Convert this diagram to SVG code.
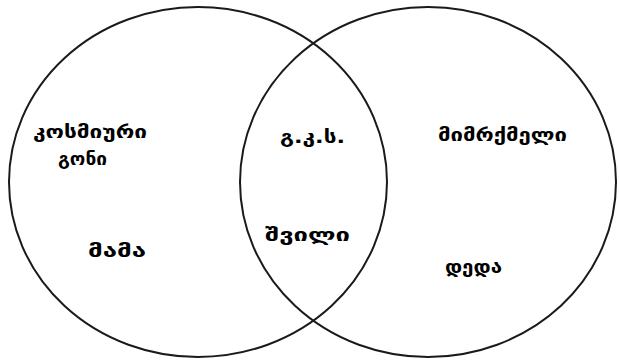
<svg xmlns="http://www.w3.org/2000/svg" width="619" height="362" viewBox="0 0 619 362">
<style>
.c{fill:none;stroke:#1a1a1a;stroke-width:2}
.t{font-family:"DejaVu Sans","Noto Sans",sans-serif;font-size:18px;font-weight:bold;fill:#000}
</style>
<rect width="619" height="362" fill="#fff"/>
<g id="left-set"><ellipse class="c" cx="198" cy="182" rx="189" ry="175"/></g>
<g id="right-set"><ellipse class="c" cx="428" cy="182" rx="188" ry="175"/></g>
<g id="connectors"></g>
<g id="n-cosmic"><text class="t" x="33" y="138" textLength="114" lengthAdjust="spacingAndGlyphs">კოსმიური</text><text class="t" x="58" y="165" textLength="49" lengthAdjust="spacingAndGlyphs">გონი</text></g>
<g id="n-father"><text class="t" x="88" y="257" textLength="58" lengthAdjust="spacingAndGlyphs">მამა</text></g>
<g id="n-gks"><text class="t" x="280" y="143" textLength="65" lengthAdjust="spacingAndGlyphs">გ.კ.ს.</text></g>
<g id="n-son"><text class="t" x="265" y="241" textLength="85" lengthAdjust="spacingAndGlyphs">შვილი</text></g>
<g id="n-other"><text class="t" x="438" y="141" textLength="129" lengthAdjust="spacingAndGlyphs">მიმრქმელი</text></g>
<g id="n-mother"><text class="t" x="445" y="273" textLength="57" lengthAdjust="spacingAndGlyphs">დედა</text></g>
</svg>
